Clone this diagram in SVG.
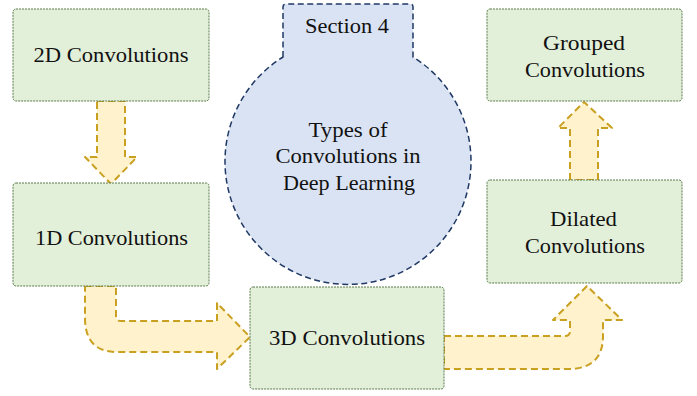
<svg xmlns="http://www.w3.org/2000/svg" width="697" height="396" viewBox="0 0 697 396">
<style>
.box{fill:#e2efd9;stroke:#5b7b4c;stroke-width:1;stroke-dasharray:2 1}
.arr{fill:#fff2cc;stroke:#c9a020;stroke-width:2;stroke-dasharray:7 4;stroke-linejoin:round}
.circ{fill:#dae3f3;stroke:#1f3864;stroke-width:1.5;stroke-dasharray:6 3.5}
text{font-family:'Liberation Serif','Times New Roman',serif;font-size:22px;fill:#111;text-anchor:middle}
</style>
<rect width="697" height="396" fill="#fff"/>
<g id="connectors">
<path class="arr" d="M97,101 H125 V157 H137 L111,184 L85,157 H97 Z"/>
<path class="arr" d="M85,286 H116 V316 Q116,321 121,321 H217 V303 L250,337 L217,369 V352 H117 Q85,352 85,318 Z"/>
<path class="arr" d="M444,336 H565 Q570,336 570,331 V320 H553 L587,286 L622,320 H603 V336 Q603,369 568,369 H444 Z"/>
<path class="arr" d="M570,180 V128 H558 L584,102 L612,128 H598 V180 Z"/>
</g>
<g id="center">
<path class="circ" d="M283,57 V7 Q283,4 286,4 H410 Q413,4 413,7 V57 A123,123 0 1 1 283,57 Z"/>
<text x="347" y="33" style="font-size:21px" textLength="84" lengthAdjust="spacingAndGlyphs">Section 4</text>
<text x="348" y="137" textLength="79" lengthAdjust="spacingAndGlyphs">Types of</text>
<text x="348" y="163" textLength="145" lengthAdjust="spacingAndGlyphs">Convolutions in</text>
<text x="349" y="190" textLength="132" lengthAdjust="spacingAndGlyphs">Deep Learning</text>
</g>
<g id="n2d">
<rect class="box" x="13" y="9" width="196" height="92" rx="3"/>
<text x="111" y="62" textLength="155" lengthAdjust="spacingAndGlyphs">2D Convolutions</text>
</g>
<g id="n1d">
<rect class="box" x="13" y="183" width="196" height="103" rx="3"/>
<text x="111.5" y="245" textLength="153" lengthAdjust="spacingAndGlyphs">1D Convolutions</text>
</g>
<g id="n3d">
<rect class="box" x="250" y="287" width="194" height="102" rx="3"/>
<text x="347" y="345" textLength="156" lengthAdjust="spacingAndGlyphs">3D Convolutions</text>
</g>
<g id="ndil">
<rect class="box" x="487" y="180" width="195" height="103" rx="3"/>
<text x="583.5" y="226" textLength="67" lengthAdjust="spacingAndGlyphs">Dilated</text>
<text x="585" y="253" textLength="120" lengthAdjust="spacingAndGlyphs">Convolutions</text>
</g>
<g id="ngrp">
<rect class="box" x="487" y="9" width="195" height="92" rx="3"/>
<text x="584" y="50" textLength="82" lengthAdjust="spacingAndGlyphs">Grouped</text>
<text x="585" y="77" textLength="120" lengthAdjust="spacingAndGlyphs">Convolutions</text>
</g>
</svg>
